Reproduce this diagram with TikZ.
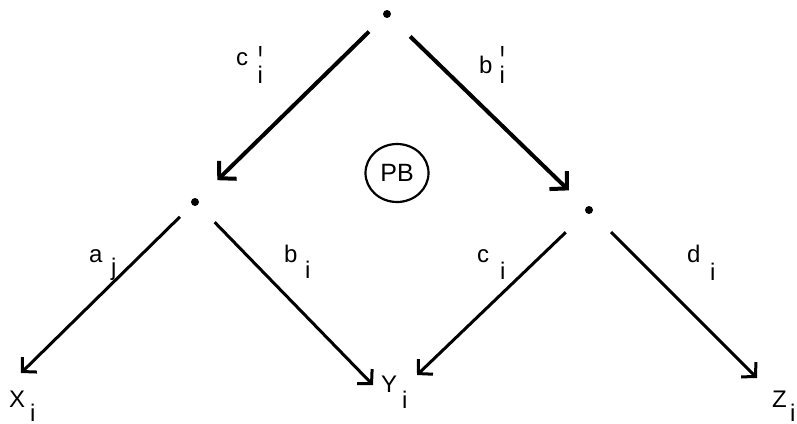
\documentclass[tikz,border=0pt]{standalone}
\usepackage{fontspec}
\setmainfont{Liberation Sans}
\usetikzlibrary{arrows.meta,shapes.geometric}
\newcommand\primei{\makebox[0pt][l]{\hspace{0.5pt}\raisebox{4pt}{\scalebox{1}[2]{\textquotesingle}}}i}
\begin{document}
\begin{tikzpicture}[x=1pt,y=-1pt,
  dotnode/.style={circle, fill, inner sep=0pt, minimum size=8pt},
  lbl/.style={inner sep=0pt, anchor=base west, font=\fontsize{24}{24}\selectfont},
  thickarr/.style={line width=4pt, -{Straight Barb[length=12pt,width=25pt]}},
  thinarr/.style={line width=3pt, -{Straight Barb[length=10pt,width=21pt]}},
  pbring/.style={draw, ellipse, line width=2.2pt, minimum width=63pt, minimum height=58pt, inner sep=0pt, font=\fontsize{25}{25}\selectfont}]
\useasboundingbox (0,0) rectangle (797,423);
% dots
\node[dotnode] (top) at (387,14) {};
\node[dotnode] (L) at (195,202) {};
\node[dotnode] (R) at (589,210) {};
% arrow end points
\coordinate (xend) at (21,373);
\coordinate (yendL) at (373,385);
\coordinate (yendR) at (417,375);
\coordinate (zend) at (757,378);
% connectors
\draw[thickarr, shorten <=21pt, shorten >=27pt] (top) -- (L);
\draw[thickarr, shorten <=28pt, shorten >=24pt] (top) -- (R);
\draw[thinarr, shorten <=17pt] (L) -- (xend);
\draw[thinarr, shorten <=24pt] (L) -- (yendL);
\draw[thinarr, shorten <=28pt] (R) -- (yendR);
\draw[thinarr, shorten <=27pt] (R) -- (zend);
% PB
\node[pbring] (pb) at (397,173) {PB};
% labels
\node[lbl] (cp) at (236,65) {c};
\node[lbl] (cpi) at (257.5,83) {\primei};
\node[lbl] (bp) at (479,73) {b};
\node[lbl] (bpi) at (499.5,83) {\primei};
\node[lbl] (aj) at (89,262) {a};
\node[lbl] (ajj) at (111,275) {j};
\node[lbl] (bi) at (284,262) {b};
\node[lbl] (bii) at (305,278) {i};
\node[lbl] (ci) at (477,262) {c};
\node[lbl] (cii) at (500,279) {i};
\node[lbl] (di) at (687,262) {d};
\node[lbl] (dii) at (710,280) {i};
\node[lbl] (X) at (9,407) {X};
\node[lbl] (Xi) at (30,421) {i};
\node[lbl] (Y) at (381,392) {Y};
\node[lbl] (Yi) at (402,408) {i};
\node[lbl] (Z) at (772,407) {Z};
\node[lbl] (Zi) at (790,421) {i};
\end{tikzpicture}
\end{document}
